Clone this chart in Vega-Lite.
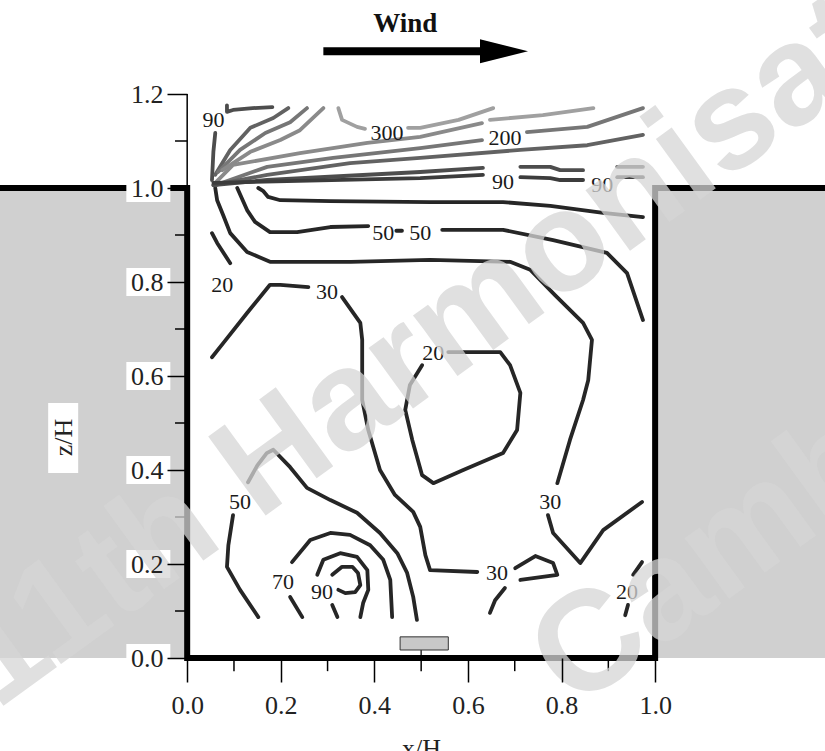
{
  "$schema": "https://vega.github.io/schema/vega-lite/v6.json",
  "width": 825,
  "height": 658,
  "autosize": {"type": "none"},
  "padding": {"left": 0, "top": 0, "right": 0, "bottom": 93},
  "background": "white",
  "config": {"view": {"stroke": null}},
  "datasets": {
    "buildings": [
      {"x": -0.41, "x2": 0, "z": 0, "z2": 1},
      {"x": 1, "x2": 1.37, "z": 0, "z2": 1}
    ],
    "outline": [
      {"i": 0, "x": -0.41, "z": 1}, {"i": 1, "x": 0, "z": 1}, {"i": 2, "x": 0, "z": 0},
      {"i": 3, "x": 1, "z": 0}, {"i": 4, "x": 1, "z": 1}, {"i": 5, "x": 1.37, "z": 1}
    ],
    "contours": [
      {"s": "C1", "t": "k", "i": 0, "x": 0.152, "z": 1.0},
      {"s": "C1", "t": "k", "i": 1, "x": 0.162, "z": 0.994},
      {"s": "C1", "t": "k", "i": 2, "x": 0.173, "z": 0.981},
      {"s": "C1", "t": "k", "i": 3, "x": 0.199, "z": 0.974},
      {"s": "C1", "t": "k", "i": 4, "x": 0.306, "z": 0.972},
      {"s": "C1", "t": "k", "i": 5, "x": 0.519, "z": 0.970},
      {"s": "C1", "t": "k", "i": 6, "x": 0.675, "z": 0.970},
      {"s": "C1", "t": "k", "i": 7, "x": 0.776, "z": 0.962},
      {"s": "C1", "t": "k", "i": 8, "x": 0.889, "z": 0.947},
      {"s": "C1", "t": "k", "i": 9, "x": 0.974, "z": 0.938},

      {"s": "C2a", "t": "k", "i": 0, "x": 0.107, "z": 1.0},
      {"s": "C2a", "t": "k", "i": 1, "x": 0.128, "z": 0.953},
      {"s": "C2a", "t": "k", "i": 2, "x": 0.145, "z": 0.928},
      {"s": "C2a", "t": "k", "i": 3, "x": 0.177, "z": 0.906},
      {"s": "C2a", "t": "k", "i": 4, "x": 0.235, "z": 0.906},
      {"s": "C2a", "t": "k", "i": 5, "x": 0.306, "z": 0.917},
      {"s": "C2a", "t": "k", "i": 6, "x": 0.387, "z": 0.919},
      {"s": "C2b", "t": "k", "i": 0, "x": 0.447, "z": 0.909},
      {"s": "C2b", "t": "k", "i": 1, "x": 0.459, "z": 0.909},
      {"s": "C2c", "t": "k", "i": 0, "x": 0.545, "z": 0.911},
      {"s": "C2c", "t": "k", "i": 1, "x": 0.675, "z": 0.911},
      {"s": "C2c", "t": "k", "i": 2, "x": 0.782, "z": 0.889},
      {"s": "C2c", "t": "k", "i": 3, "x": 0.897, "z": 0.862},
      {"s": "C2c", "t": "k", "i": 4, "x": 0.940, "z": 0.819},
      {"s": "C2c", "t": "k", "i": 5, "x": 0.974, "z": 0.719},

      {"s": "C3a", "t": "k", "i": 0, "x": 0.060, "z": 1.0},
      {"s": "C3a", "t": "k", "i": 1, "x": 0.064, "z": 0.974},
      {"s": "C3a", "t": "k", "i": 2, "x": 0.077, "z": 0.942},
      {"s": "C3a", "t": "k", "i": 3, "x": 0.092, "z": 0.904},
      {"s": "C3a", "t": "k", "i": 4, "x": 0.128, "z": 0.864},
      {"s": "C3a", "t": "k", "i": 5, "x": 0.177, "z": 0.843},
      {"s": "C3a", "t": "k", "i": 6, "x": 0.350, "z": 0.843},
      {"s": "C3a", "t": "k", "i": 7, "x": 0.519, "z": 0.847},
      {"s": "C3a", "t": "k", "i": 8, "x": 0.690, "z": 0.843},
      {"s": "C3a", "t": "k", "i": 9, "x": 0.733, "z": 0.826},
      {"s": "C3a", "t": "k", "i": 10, "x": 0.786, "z": 0.772},
      {"s": "C3a", "t": "k", "i": 11, "x": 0.846, "z": 0.713},
      {"s": "C3a", "t": "k", "i": 12, "x": 0.865, "z": 0.677},
      {"s": "C3a", "t": "k", "i": 13, "x": 0.857, "z": 0.591},
      {"s": "C3a", "t": "k", "i": 14, "x": 0.846, "z": 0.549},
      {"s": "C3a", "t": "k", "i": 15, "x": 0.818, "z": 0.464},
      {"s": "C3a", "t": "k", "i": 16, "x": 0.791, "z": 0.372},
      {"s": "C3b", "t": "k", "i": 0, "x": 0.771, "z": 0.304},
      {"s": "C3b", "t": "k", "i": 1, "x": 0.782, "z": 0.266},
      {"s": "C3b", "t": "k", "i": 2, "x": 0.840, "z": 0.202},
      {"s": "C3b", "t": "k", "i": 3, "x": 0.889, "z": 0.272},
      {"s": "C3b", "t": "k", "i": 4, "x": 0.972, "z": 0.332},

      {"s": "C4", "t": "k", "i": 0, "x": 0.053, "z": 0.904},
      {"s": "C4", "t": "k", "i": 1, "x": 0.064, "z": 0.883},
      {"s": "C4", "t": "k", "i": 2, "x": 0.092, "z": 0.840},

      {"s": "C5a", "t": "k", "i": 0, "x": 0.053, "z": 0.640},
      {"s": "C5a", "t": "k", "i": 1, "x": 0.077, "z": 0.670},
      {"s": "C5a", "t": "k", "i": 2, "x": 0.128, "z": 0.734},
      {"s": "C5a", "t": "k", "i": 3, "x": 0.177, "z": 0.794},
      {"s": "C5a", "t": "k", "i": 4, "x": 0.199, "z": 0.794},
      {"s": "C5a", "t": "k", "i": 5, "x": 0.259, "z": 0.789},
      {"s": "C5b", "t": "k", "i": 0, "x": 0.331, "z": 0.768},
      {"s": "C5b", "t": "k", "i": 1, "x": 0.370, "z": 0.713},
      {"s": "C5b", "t": "k", "i": 2, "x": 0.374, "z": 0.677},
      {"s": "C5b", "t": "k", "i": 3, "x": 0.374, "z": 0.549},
      {"s": "C5b", "t": "k", "i": 4, "x": 0.387, "z": 0.485},
      {"s": "C5b", "t": "k", "i": 5, "x": 0.412, "z": 0.400},
      {"s": "C5b", "t": "k", "i": 6, "x": 0.444, "z": 0.347},
      {"s": "C5b", "t": "k", "i": 7, "x": 0.483, "z": 0.311},
      {"s": "C5b", "t": "k", "i": 8, "x": 0.498, "z": 0.279},
      {"s": "C5b", "t": "k", "i": 9, "x": 0.509, "z": 0.219},
      {"s": "C5b", "t": "k", "i": 10, "x": 0.519, "z": 0.187},
      {"s": "C5b", "t": "k", "i": 11, "x": 0.620, "z": 0.183},
      {"s": "C5c", "t": "k", "i": 0, "x": 0.701, "z": 0.191},
      {"s": "C5c", "t": "k", "i": 1, "x": 0.744, "z": 0.217},
      {"s": "C5c", "t": "k", "i": 2, "x": 0.782, "z": 0.202},
      {"s": "C5c", "t": "k", "i": 3, "x": 0.791, "z": 0.177},
      {"s": "C5c", "t": "k", "i": 4, "x": 0.712, "z": 0.166},
      {"s": "C5d", "t": "k", "i": 0, "x": 0.679, "z": 0.149},
      {"s": "C5d", "t": "k", "i": 1, "x": 0.658, "z": 0.123},
      {"s": "C5d", "t": "k", "i": 2, "x": 0.647, "z": 0.096},

      {"s": "C6", "t": "k", "i": 0, "x": 0.558, "z": 0.651},
      {"s": "C6", "t": "k", "i": 1, "x": 0.669, "z": 0.651},
      {"s": "C6", "t": "k", "i": 2, "x": 0.690, "z": 0.623},
      {"s": "C6", "t": "k", "i": 3, "x": 0.712, "z": 0.564},
      {"s": "C6", "t": "k", "i": 4, "x": 0.705, "z": 0.485},
      {"s": "C6", "t": "k", "i": 5, "x": 0.675, "z": 0.436},
      {"s": "C6", "t": "k", "i": 6, "x": 0.590, "z": 0.400},
      {"s": "C6", "t": "k", "i": 7, "x": 0.526, "z": 0.372},
      {"s": "C6", "t": "k", "i": 8, "x": 0.502, "z": 0.389},
      {"s": "C6", "t": "k", "i": 9, "x": 0.481, "z": 0.464},
      {"s": "C6", "t": "k", "i": 10, "x": 0.466, "z": 0.528},
      {"s": "C6", "t": "k", "i": 11, "x": 0.476, "z": 0.581},
      {"s": "C6", "t": "k", "i": 12, "x": 0.502, "z": 0.623},

      {"s": "C7a", "t": "k", "i": 0, "x": 0.130, "z": 0.374},
      {"s": "C7a", "t": "k", "i": 1, "x": 0.150, "z": 0.410},
      {"s": "C7a", "t": "k", "i": 2, "x": 0.170, "z": 0.436},
      {"s": "C7a", "t": "k", "i": 3, "x": 0.184, "z": 0.443},
      {"s": "C7a", "t": "k", "i": 4, "x": 0.220, "z": 0.406},
      {"s": "C7a", "t": "k", "i": 5, "x": 0.256, "z": 0.362},
      {"s": "C7a", "t": "k", "i": 6, "x": 0.306, "z": 0.336},
      {"s": "C7a", "t": "k", "i": 7, "x": 0.363, "z": 0.309},
      {"s": "C7a", "t": "k", "i": 8, "x": 0.412, "z": 0.266},
      {"s": "C7a", "t": "k", "i": 9, "x": 0.449, "z": 0.223},
      {"s": "C7a", "t": "k", "i": 10, "x": 0.470, "z": 0.181},
      {"s": "C7a", "t": "k", "i": 11, "x": 0.483, "z": 0.130},
      {"s": "C7a", "t": "k", "i": 12, "x": 0.491, "z": 0.081},
      {"s": "C7b", "t": "k", "i": 0, "x": 0.098, "z": 0.304},
      {"s": "C7b", "t": "k", "i": 1, "x": 0.088, "z": 0.240},
      {"s": "C7b", "t": "k", "i": 2, "x": 0.085, "z": 0.194},
      {"s": "C7b", "t": "k", "i": 3, "x": 0.113, "z": 0.145},
      {"s": "C7b", "t": "k", "i": 4, "x": 0.152, "z": 0.087},

      {"s": "C8a", "t": "k", "i": 0, "x": 0.224, "z": 0.204},
      {"s": "C8a", "t": "k", "i": 1, "x": 0.263, "z": 0.251},
      {"s": "C8a", "t": "k", "i": 2, "x": 0.306, "z": 0.266},
      {"s": "C8a", "t": "k", "i": 3, "x": 0.348, "z": 0.262},
      {"s": "C8a", "t": "k", "i": 4, "x": 0.391, "z": 0.240},
      {"s": "C8a", "t": "k", "i": 5, "x": 0.419, "z": 0.209},
      {"s": "C8a", "t": "k", "i": 6, "x": 0.434, "z": 0.166},
      {"s": "C8a", "t": "k", "i": 7, "x": 0.438, "z": 0.087},
      {"s": "C8b", "t": "k", "i": 0, "x": 0.220, "z": 0.130},
      {"s": "C8b", "t": "k", "i": 1, "x": 0.246, "z": 0.087},

      {"s": "C9a", "t": "k", "i": 0, "x": 0.278, "z": 0.177},
      {"s": "C9a", "t": "k", "i": 1, "x": 0.291, "z": 0.209},
      {"s": "C9a", "t": "k", "i": 2, "x": 0.327, "z": 0.223},
      {"s": "C9a", "t": "k", "i": 3, "x": 0.363, "z": 0.215},
      {"s": "C9a", "t": "k", "i": 4, "x": 0.385, "z": 0.187},
      {"s": "C9a", "t": "k", "i": 5, "x": 0.387, "z": 0.145},
      {"s": "C9a", "t": "k", "i": 6, "x": 0.376, "z": 0.117},
      {"s": "C9a", "t": "k", "i": 7, "x": 0.370, "z": 0.087},
      {"s": "C9b", "t": "k", "i": 0, "x": 0.310, "z": 0.113},
      {"s": "C9b", "t": "k", "i": 1, "x": 0.321, "z": 0.087},

      {"s": "C10", "t": "k", "i": 0, "x": 0.310, "z": 0.177},
      {"s": "C10", "t": "k", "i": 1, "x": 0.331, "z": 0.194},
      {"s": "C10", "t": "k", "i": 2, "x": 0.353, "z": 0.194},
      {"s": "C10", "t": "k", "i": 3, "x": 0.365, "z": 0.181},
      {"s": "C10", "t": "k", "i": 4, "x": 0.370, "z": 0.155},
      {"s": "C10", "t": "k", "i": 5, "x": 0.359, "z": 0.140},
      {"s": "C10", "t": "k", "i": 6, "x": 0.338, "z": 0.138},
      {"s": "C10", "t": "k", "i": 7, "x": 0.323, "z": 0.145},

      {"s": "C11a", "t": "k", "i": 0, "x": 0.972, "z": 0.204},
      {"s": "C11a", "t": "k", "i": 1, "x": 0.953, "z": 0.177},
      {"s": "C11b", "t": "k", "i": 0, "x": 0.942, "z": 0.113},
      {"s": "C11b", "t": "k", "i": 1, "x": 0.936, "z": 0.091},

      {"s": "U1", "t": "t2", "i": 0, "x": 0.053, "z": 1.017},
      {"s": "U1", "t": "t2", "i": 1, "x": 0.056, "z": 1.077},
      {"s": "U1", "t": "t2", "i": 2, "x": 0.060, "z": 1.117},
      {"s": "U2", "t": "t2", "i": 0, "x": 0.085, "z": 1.176},
      {"s": "U2", "t": "t2", "i": 1, "x": 0.085, "z": 1.162},
      {"s": "U2", "t": "t2", "i": 2, "x": 0.098, "z": 1.166},
      {"s": "U2", "t": "t2", "i": 3, "x": 0.140, "z": 1.170},
      {"s": "U2", "t": "t2", "i": 4, "x": 0.182, "z": 1.172},
      {"s": "U3a", "t": "t3", "i": 0, "x": 0.060, "z": 1.028},
      {"s": "U3a", "t": "t3", "i": 1, "x": 0.092, "z": 1.081},
      {"s": "U3a", "t": "t3", "i": 2, "x": 0.135, "z": 1.128},
      {"s": "U3a", "t": "t3", "i": 3, "x": 0.184, "z": 1.149},
      {"s": "U3a", "t": "t3", "i": 4, "x": 0.216, "z": 1.170},
      {"s": "U3b", "t": "t4", "i": 0, "x": 0.066, "z": 1.034},
      {"s": "U3b", "t": "t4", "i": 1, "x": 0.113, "z": 1.081},
      {"s": "U3b", "t": "t4", "i": 2, "x": 0.167, "z": 1.117},
      {"s": "U3b", "t": "t4", "i": 3, "x": 0.220, "z": 1.140},
      {"s": "U3b", "t": "t4", "i": 4, "x": 0.256, "z": 1.170},
      {"s": "U3c", "t": "t5", "i": 0, "x": 0.075, "z": 1.038},
      {"s": "U3c", "t": "t5", "i": 1, "x": 0.135, "z": 1.077},
      {"s": "U3c", "t": "t5", "i": 2, "x": 0.199, "z": 1.102},
      {"s": "U3c", "t": "t5", "i": 3, "x": 0.241, "z": 1.123},
      {"s": "U3c", "t": "t5", "i": 4, "x": 0.291, "z": 1.170},
      {"s": "U4a", "t": "t6", "i": 0, "x": 0.323, "z": 1.170},
      {"s": "U4a", "t": "t6", "i": 1, "x": 0.331, "z": 1.145},
      {"s": "U4a", "t": "t6", "i": 2, "x": 0.363, "z": 1.130},
      {"s": "U4a", "t": "t6", "i": 3, "x": 0.380, "z": 1.126},
      {"s": "U4b", "t": "t6", "i": 0, "x": 0.472, "z": 1.128},
      {"s": "U4b", "t": "t6", "i": 1, "x": 0.498, "z": 1.128},
      {"s": "U4b", "t": "t6", "i": 2, "x": 0.580, "z": 1.145},
      {"s": "U4b", "t": "t6", "i": 3, "x": 0.654, "z": 1.170},
      {"s": "U5", "t": "t6", "i": 0, "x": 0.647, "z": 1.145},
      {"s": "U5", "t": "t6", "i": 1, "x": 0.760, "z": 1.155},
      {"s": "U5", "t": "t6", "i": 2, "x": 0.868, "z": 1.170},
      {"s": "F1", "t": "t5", "i": 0, "x": 0.060, "z": 1.011},
      {"s": "F1", "t": "t5", "i": 1, "x": 0.098, "z": 1.049},
      {"s": "F1", "t": "t5", "i": 2, "x": 0.241, "z": 1.074},
      {"s": "F1", "t": "t5", "i": 3, "x": 0.385, "z": 1.096},
      {"s": "F1", "t": "t5", "i": 4, "x": 0.498, "z": 1.109},
      {"s": "F1", "t": "t5", "i": 5, "x": 0.630, "z": 1.138},
      {"s": "F2a", "t": "t4", "i": 0, "x": 0.060, "z": 1.006},
      {"s": "F2a", "t": "t4", "i": 1, "x": 0.171, "z": 1.045},
      {"s": "F2a", "t": "t4", "i": 2, "x": 0.312, "z": 1.064},
      {"s": "F2a", "t": "t4", "i": 3, "x": 0.498, "z": 1.085},
      {"s": "F2a", "t": "t4", "i": 4, "x": 0.630, "z": 1.102},
      {"s": "F2b", "t": "t4", "i": 0, "x": 0.726, "z": 1.119},
      {"s": "F2b", "t": "t4", "i": 1, "x": 0.855, "z": 1.130},
      {"s": "F2b", "t": "t4", "i": 2, "x": 0.974, "z": 1.170},
      {"s": "F3", "t": "t3", "i": 0, "x": 0.056, "z": 1.006},
      {"s": "F3", "t": "t3", "i": 1, "x": 0.171, "z": 1.028},
      {"s": "F3", "t": "t3", "i": 2, "x": 0.348, "z": 1.053},
      {"s": "F3", "t": "t3", "i": 3, "x": 0.498, "z": 1.064},
      {"s": "F3", "t": "t3", "i": 4, "x": 0.712, "z": 1.081},
      {"s": "F3", "t": "t3", "i": 5, "x": 0.855, "z": 1.091},
      {"s": "F3", "t": "t3", "i": 6, "x": 0.974, "z": 1.113},
      {"s": "F4a", "t": "t2", "i": 0, "x": 0.056, "z": 1.006},
      {"s": "F4a", "t": "t2", "i": 1, "x": 0.171, "z": 1.017},
      {"s": "F4a", "t": "t2", "i": 2, "x": 0.498, "z": 1.034},
      {"s": "F4a", "t": "t2", "i": 3, "x": 0.632, "z": 1.043},
      {"s": "F4b", "t": "t2", "i": 0, "x": 0.712, "z": 1.045},
      {"s": "F4b", "t": "t2", "i": 1, "x": 0.776, "z": 1.045},
      {"s": "F4b", "t": "t2", "i": 2, "x": 0.797, "z": 1.038},
      {"s": "F4b", "t": "t2", "i": 3, "x": 0.846, "z": 1.038},
      {"s": "F4c", "t": "t2", "i": 0, "x": 0.919, "z": 1.045},
      {"s": "F4c", "t": "t2", "i": 1, "x": 0.974, "z": 1.045},
      {"s": "F5a", "t": "t1", "i": 0, "x": 0.056, "z": 1.011},
      {"s": "F5a", "t": "t1", "i": 1, "x": 0.498, "z": 1.021},
      {"s": "F5a", "t": "t1", "i": 2, "x": 0.632, "z": 1.028},
      {"s": "F5b", "t": "t1", "i": 0, "x": 0.712, "z": 1.023},
      {"s": "F5b", "t": "t1", "i": 1, "x": 0.776, "z": 1.021},
      {"s": "F5b", "t": "t1", "i": 2, "x": 0.797, "z": 1.017},
      {"s": "F5b", "t": "t1", "i": 3, "x": 0.846, "z": 1.017},
      {"s": "F5c", "t": "t1", "i": 0, "x": 0.919, "z": 1.023},
      {"s": "F5c", "t": "t1", "i": 1, "x": 0.974, "z": 1.023}
    ],
    "labels": [
      {"label": "90", "x": 0.056, "z": 1.145},
      {"label": "300", "x": 0.427, "z": 1.117},
      {"label": "200", "x": 0.679, "z": 1.106},
      {"label": "90", "x": 0.675, "z": 1.013},
      {"label": "90", "x": 0.887, "z": 1.006},
      {"label": "50", "x": 0.419, "z": 0.904},
      {"label": "50", "x": 0.498, "z": 0.904},
      {"label": "20", "x": 0.075, "z": 0.794},
      {"label": "30", "x": 0.299, "z": 0.779},
      {"label": "20", "x": 0.526, "z": 0.649},
      {"label": "30", "x": 0.776, "z": 0.332},
      {"label": "50", "x": 0.113, "z": 0.332},
      {"label": "70", "x": 0.205, "z": 0.162},
      {"label": "90", "x": 0.288, "z": 0.140},
      {"label": "30", "x": 0.662, "z": 0.181},
      {"label": "20", "x": 0.940, "z": 0.140}
    ],
    "pedestal": [{"x": 0.455, "x2": 0.558, "z": 0.017, "z2": 0.045}],
    "stem": [{"x": 0.5, "z": 0, "z2": 0.017}],
    "ybox": [{"z": 0}, {"z": 0.2}, {"z": 0.4}, {"z": 0.6}, {"z": 0.8}, {"z": 1.0}],
    "zbox": [{"x": -0.265, "z": 0.468}],
    "yminor": [{"z": 0.1}, {"z": 0.3}, {"z": 0.5}, {"z": 0.7}, {"z": 0.9}, {"z": 1.1}],
    "xminor": [{"x": 0.1}, {"x": 0.3}, {"x": 0.5}, {"x": 0.7}, {"x": 0.9}],
    "yline": [{"x": 0, "z": 1.0, "z2": 1.2}],
    "arrow": [{"x": 0.291, "x2": 0.640, "z": 1.291}],
    "arrowhead": [{"x": 0.677, "z": 1.291}],
    "wind": [{"label": "Wind", "x": 0.466, "z": 1.349}],
    "watermark": [
      {"label": "11th Harmonisation", "x": -0.408, "z": -0.113},
      {"label": "Cambridge", "x": 0.827, "z": -0.113}
    ]
  },
  "layer": [
    {
      "data": {"name": "buildings"},
      "mark": {"type": "rect", "color": "#d0d0d0"},
      "encoding": {
        "x": {
          "field": "x", "type": "quantitative",
          "scale": {"domain": [-0.4, 1.363], "nice": false, "zero": false},
          "axis": {
            "values": [0, 0.2, 0.4, 0.6, 0.8, 1.0], "format": ".1f",
            "domain": false, "grid": false,
            "tickSize": 24, "tickWidth": 1.5, "tickColor": "black",
            "labelFont": "Liberation Serif", "labelFontSize": 26, "labelColor": "#222",
            "labelPadding": 10, "labelFlush": false, "labelOverlap": false,
            "title": "x/H", "titleFont": "Liberation Serif", "titleFontSize": 26,
            "titleFontWeight": "normal", "titleColor": "#222",
            "titleX": 421, "titleY": 90, "titleAlign": "center", "titleBaseline": "middle",
            "zindex": 1
          }
        },
        "x2": {"field": "x2"},
        "y": {
          "field": "z", "type": "quantitative",
          "scale": {"domain": [0, 1.4], "nice": false, "zero": false},
          "axis": {
            "values": [0, 0.2, 0.4, 0.6, 0.8, 1.0, 1.2], "format": ".1f",
            "offset": -187, "domain": false, "grid": false,
            "tickSize": 20, "tickWidth": 1.5, "tickColor": "black",
            "labelFont": "Liberation Serif", "labelFontSize": 26, "labelColor": "#222",
            "labelPadding": 4, "labelFlush": false, "labelOverlap": false,
            "title": "z/H", "titleFont": "Liberation Serif", "titleFontSize": 26,
            "titleFontWeight": "normal", "titleColor": "#222", "titleAngle": 270,
            "titleX": -124, "titleY": 437, "titleAlign": "center", "titleBaseline": "middle",
            "zindex": 1
          }
        },
        "y2": {"field": "z2"}
      }
    },
    {
      "data": {"name": "contours"},
      "mark": {"type": "line", "strokeWidth": 3.8, "strokeCap": "round", "strokeJoin": "round"},
      "encoding": {
        "x": {"field": "x", "type": "quantitative"},
        "y": {"field": "z", "type": "quantitative"},
        "detail": {"field": "s", "type": "nominal"},
        "order": {"field": "i", "type": "quantitative"},
        "color": {
          "field": "t", "type": "nominal", "legend": null,
          "scale": {"domain": ["k", "t1", "t2", "t3", "t4", "t5", "t6"],
                    "range": ["#262626", "#3c3c3c", "#4d4d4d", "#626262", "#767676", "#8a8a8a", "#a0a0a0"]}
        }
      }
    },
    {
      "data": {"name": "labels"},
      "mark": {"type": "text", "font": "Liberation Serif", "fontSize": 22, "color": "#1a1a1a", "align": "center", "baseline": "middle"},
      "encoding": {
        "x": {"field": "x", "type": "quantitative"},
        "y": {"field": "z", "type": "quantitative"},
        "text": {"field": "label"}
      }
    },
    {
      "data": {"name": "pedestal"},
      "mark": {"type": "rect", "color": "#c8c8c8", "stroke": "#333", "strokeWidth": 1},
      "encoding": {
        "x": {"field": "x", "type": "quantitative"}, "x2": {"field": "x2"},
        "y": {"field": "z", "type": "quantitative"}, "y2": {"field": "z2"}
      }
    },
    {
      "data": {"name": "stem"},
      "mark": {"type": "rule", "color": "#333", "strokeWidth": 1.5},
      "encoding": {
        "x": {"field": "x", "type": "quantitative"},
        "y": {"field": "z", "type": "quantitative"}, "y2": {"field": "z2"}
      }
    },
    {
      "data": {"name": "outline"},
      "mark": {"type": "line", "color": "black", "strokeWidth": 6, "strokeJoin": "miter", "strokeCap": "butt"},
      "encoding": {
        "x": {"field": "x", "type": "quantitative"},
        "y": {"field": "z", "type": "quantitative"},
        "order": {"field": "i", "type": "quantitative"}
      }
    },
    {
      "data": {"name": "ybox"},
      "mark": {"type": "tick", "orient": "horizontal", "size": 44, "thickness": 28, "color": "white", "opacity": 1},
      "encoding": {
        "x": {"datum": -0.083, "type": "quantitative"},
        "y": {"field": "z", "type": "quantitative"}
      }
    },
    {
      "data": {"name": "zbox"},
      "mark": {"type": "tick", "orient": "vertical", "size": 70, "thickness": 30, "color": "white", "opacity": 1},
      "encoding": {
        "x": {"field": "x", "type": "quantitative"},
        "y": {"field": "z", "type": "quantitative"}
      }
    },
    {
      "data": {"name": "yminor"},
      "mark": {"type": "rule", "color": "black", "strokeWidth": 1.5},
      "encoding": {
        "x": {"datum": -0.026, "type": "quantitative"},
        "x2": {"datum": 0},
        "y": {"field": "z", "type": "quantitative"}
      }
    },
    {
      "data": {"name": "xminor"},
      "mark": {"type": "rule", "color": "black", "strokeWidth": 1.5},
      "encoding": {
        "x": {"field": "x", "type": "quantitative"},
        "y": {"datum": 0, "type": "quantitative"},
        "y2": {"datum": -0.028}
      }
    },
    {
      "data": {"name": "yline"},
      "mark": {"type": "rule", "color": "black", "strokeWidth": 1.5},
      "encoding": {
        "x": {"field": "x", "type": "quantitative"},
        "y": {"field": "z", "type": "quantitative"}, "y2": {"field": "z2"}
      }
    },
    {
      "data": {"name": "arrow"},
      "mark": {"type": "rule", "color": "black", "strokeWidth": 8, "strokeCap": "butt"},
      "encoding": {
        "x": {"field": "x", "type": "quantitative"}, "x2": {"field": "x2"},
        "y": {"field": "z", "type": "quantitative"}
      }
    },
    {
      "data": {"name": "arrowhead"},
      "mark": {"type": "point", "shape": "M -1 -0.5 L 1 0 L -1 0.5 Z", "size": 2304, "filled": true, "color": "black", "opacity": 1, "strokeWidth": 0},
      "encoding": {
        "x": {"field": "x", "type": "quantitative"},
        "y": {"field": "z", "type": "quantitative"}
      }
    },
    {
      "data": {"name": "wind"},
      "mark": {"type": "text", "font": "Liberation Serif", "fontSize": 27, "fontWeight": "bold", "color": "#111", "align": "center", "baseline": "middle"},
      "encoding": {
        "x": {"field": "x", "type": "quantitative"},
        "y": {"field": "z", "type": "quantitative"},
        "text": {"field": "label"}
      }
    },
    {
      "data": {"name": "watermark"},
      "mark": {"type": "text", "font": "Liberation Sans", "fontSize": 142, "fontWeight": "bold", "angle": 324, "align": "left", "baseline": "alphabetic", "color": "#d6d6d6", "opacity": 0.75},
      "encoding": {
        "x": {"field": "x", "type": "quantitative"},
        "y": {"field": "z", "type": "quantitative"},
        "text": {"field": "label"}
      }
    }
  ]
}
